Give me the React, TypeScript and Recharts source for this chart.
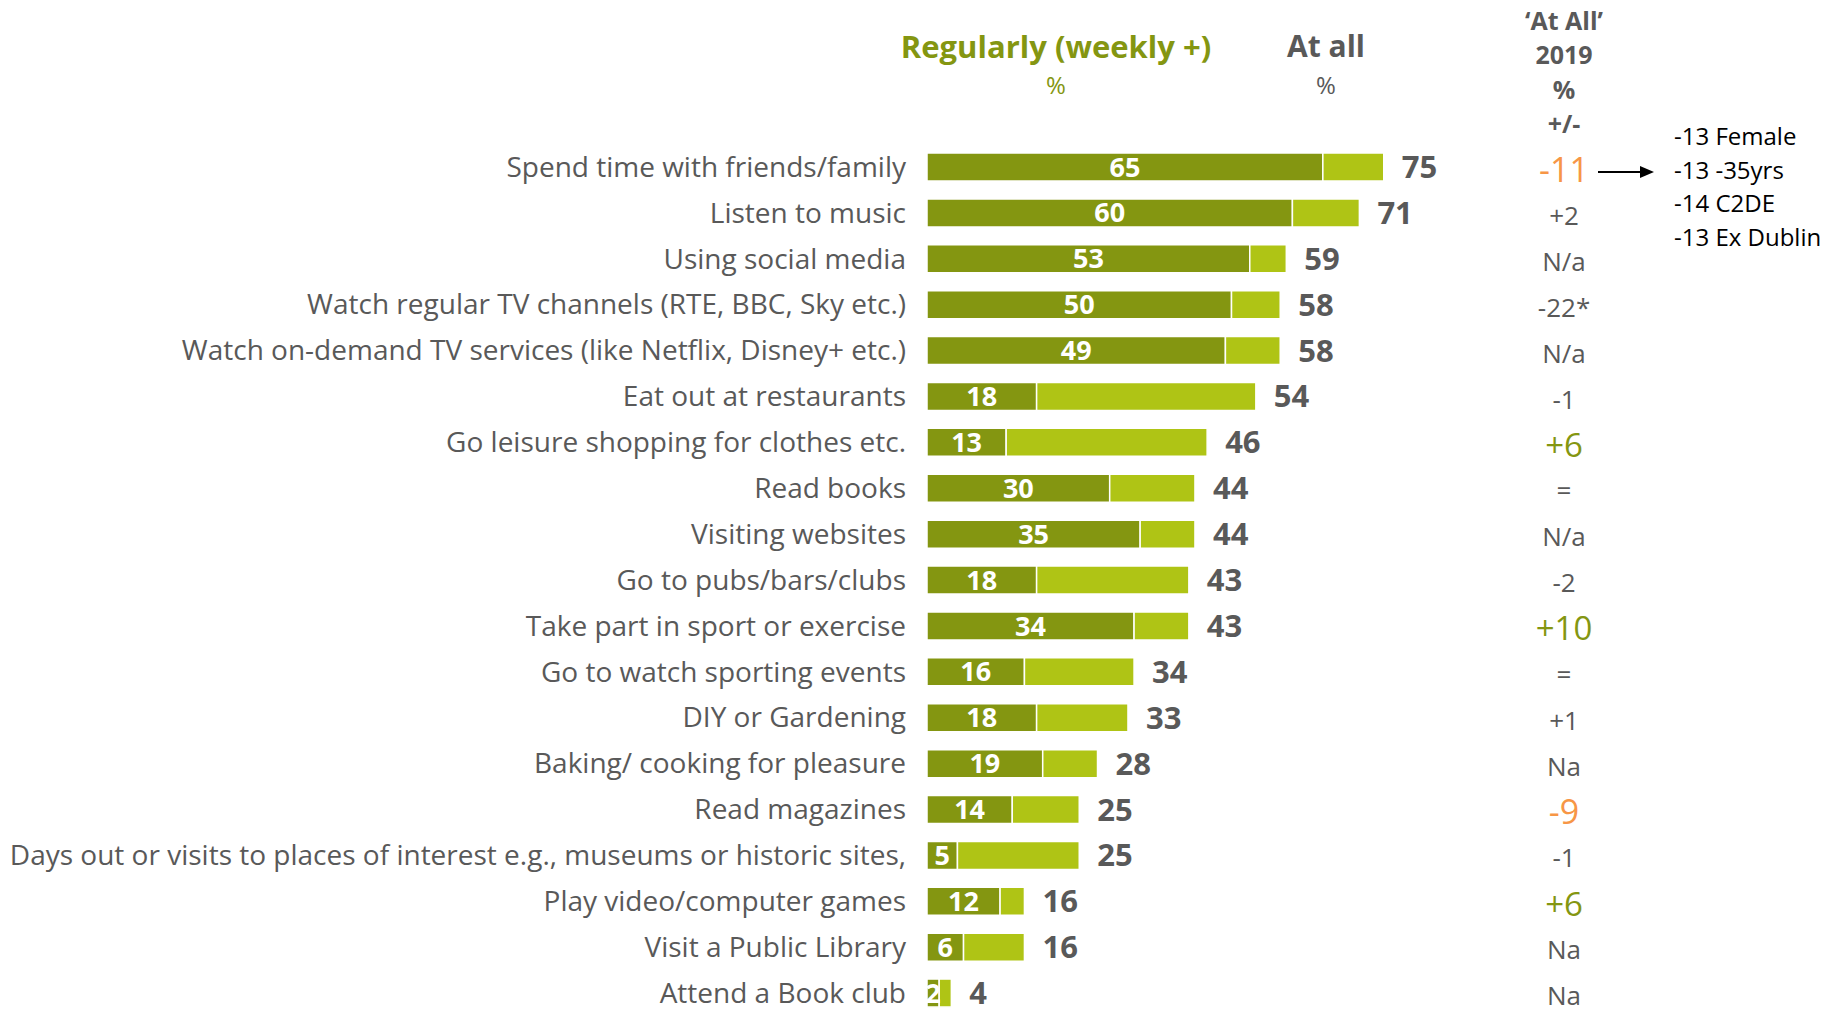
import React from "react";
import { BarChart, Bar, XAxis, YAxis, LabelList } from "recharts";

const activities = [
  "Spend time with friends/family",
  "Listen to music",
  "Using social media",
  "Watch regular TV channels (RTE, BBC, Sky etc.)",
  "Watch on-demand TV services (like Netflix, Disney+ etc.)",
  "Eat out at restaurants",
  "Go leisure shopping for clothes etc.",
  "Read books",
  "Visiting websites",
  "Go to pubs/bars/clubs",
  "Take part in sport or exercise",
  "Go to watch sporting events",
  "DIY or Gardening",
  "Baking/ cooking for pleasure",
  "Read magazines",
  "Days out or visits to places of interest e.g., museums or historic sites,",
  "Play video/computer games",
  "Visit a Public Library",
  "Attend a Book club",
];

const regularly = [65, 60, 53, 50, 49, 18, 13, 30, 35, 18, 34, 16, 18, 19, 14, 5, 12, 6, 2];
const atAll = [75, 71, 59, 58, 58, 54, 46, 44, 44, 43, 43, 34, 33, 28, 25, 25, 16, 16, 4];
const change2019 = ["-11", "+2", "N/a", "-22*", "N/a", "-1", "+6", "=", "N/a", "-2", "+10", "=", "+1", "Na", "-9", "-1", "+6", "Na", "Na"];
const breakdownNotes = ["-13 Female", "-13 -35yrs", "-14 C2DE", "-13 Ex Dublin"];

const DARK = "#849611";
const LIGHT = "#afc415";
const GREY = "#595959";
const ORANGE = "#f79646";
const FONT = "'Open Sans', sans-serif";

const data = activities.map((name, i) => ({
  name,
  regularly: regularly[i],
  rest: atAll[i] - regularly[i],
  atAll: atAll[i],
  change: change2019[i],
}));

// big coloured figures for the notable shifts, small grey for the rest
const changeStyle = (v: string) => {
  if (v === "+6" || v === "+10") return { fill: DARK, size: 33 };
  if (v === "-11" || v === "-9") return { fill: ORANGE, size: 34 };
  return { fill: GREY, size: 26 };
};

const LeftTick = (props: any) => {
  const { x, y, payload } = props;
  return (
    <text x={x} y={y} dy="0.35em" textAnchor="end" fill={GREY} fontSize={28} fontFamily={FONT}>
      {payload.value}
    </text>
  );
};

const RightTick = (props: any) => {
  const { x, y, index } = props;
  const v = change2019[index];
  const s = changeStyle(v);
  return (
    <text x={x} y={y + 3} dy="0.35em" textAnchor="middle" fill={s.fill} fontSize={s.size} fontFamily={FONT}>
      {v}
    </text>
  );
};

const abs = (x: number, y: number, extra: React.CSSProperties = {}): React.CSSProperties => ({
  position: "absolute",
  left: x,
  top: y,
  transform: "translate(-50%, -50%)",
  whiteSpace: "nowrap",
  lineHeight: 1,
  fontFamily: FONT,
  ...extra,
});

export default function App() {
  return (
    <div style={{ position: "relative", width: 1833, height: 1011, overflow: "hidden", background: "#fff" }}>
      <style>{"body{margin:0;overflow:hidden}"}</style>

      <div style={abs(1056, 46, { color: DARK, fontSize: 31, fontWeight: 700 })}>Regularly (weekly +)</div>
      <div style={abs(1056, 85, { color: DARK, fontSize: 24 })}>%</div>
      <div style={abs(1326, 46, { color: GREY, fontSize: 30, fontWeight: 700 })}>At all</div>
      <div style={abs(1326, 85, { color: GREY, fontSize: 24 })}>%</div>

      <div style={abs(1564, 20, { color: GREY, fontSize: 25, fontWeight: 700 })}>‘At All’</div>
      <div style={abs(1564, 54, { color: GREY, fontSize: 25, fontWeight: 700 })}>2019</div>
      <div style={abs(1564, 89, { color: GREY, fontSize: 25, fontWeight: 700 })}>%</div>
      <div style={abs(1564, 123, { color: GREY, fontSize: 25, fontWeight: 700 })}>+/-</div>

      {breakdownNotes.map((t, i) => (
        <div
          key={t}
          style={{
            position: "absolute",
            left: 1674,
            top: 136 + i * 33.7,
            transform: "translateY(-50%)",
            fontFamily: FONT,
            fontSize: 24,
            lineHeight: 1,
            color: "#000",
            whiteSpace: "nowrap",
          }}
        >
          {t}
        </div>
      ))}

      <svg style={{ position: "absolute", left: 1596, top: 162 }} width={62} height={20}>
        <line x1={2} y1={10} x2={46} y2={10} stroke="#000" strokeWidth={2} />
        <polygon points="44,4 58,10 44,16" fill="#000" />
      </svg>

      <div style={{ position: "absolute", left: 0, top: 0 }}>
        <BarChart
          width={1833}
          height={1020}
          data={data}
          layout="vertical"
          margin={{ top: 144, right: 0, bottom: 4, left: 0 }}
          barSize={28}
        >
          <XAxis type="number" domain={[0, 100]} hide />
          <YAxis
            yAxisId="left"
            type="category"
            dataKey="name"
            width={927}
            interval={0}
            tickSize={0}
            tickMargin={21}
            axisLine={false}
            tickLine={false}
            tick={<LeftTick />}
          />
          <YAxis
            yAxisId="right"
            orientation="right"
            type="category"
            dataKey="name"
            width={297}
            interval={0}
            tickSize={0}
            tickMargin={28}
            axisLine={false}
            tickLine={false}
            tick={<RightTick />}
          />
          <Bar yAxisId="left" dataKey="regularly" stackId="a" fill={DARK} stroke="#fff" strokeWidth={1.5} isAnimationActive={false}>
            <LabelList dataKey="regularly" position="center" fill="#fff" fontSize={27} fontWeight={700} fontFamily={FONT} />
          </Bar>
          <Bar yAxisId="left" dataKey="rest" stackId="a" fill={LIGHT} stroke="#fff" strokeWidth={1.5} isAnimationActive={false}>
            <LabelList dataKey="atAll" position="right" offset={18} fill={GREY} fontSize={31} fontWeight={700} fontFamily={FONT} />
          </Bar>
        </BarChart>
      </div>
    </div>
  );
}
